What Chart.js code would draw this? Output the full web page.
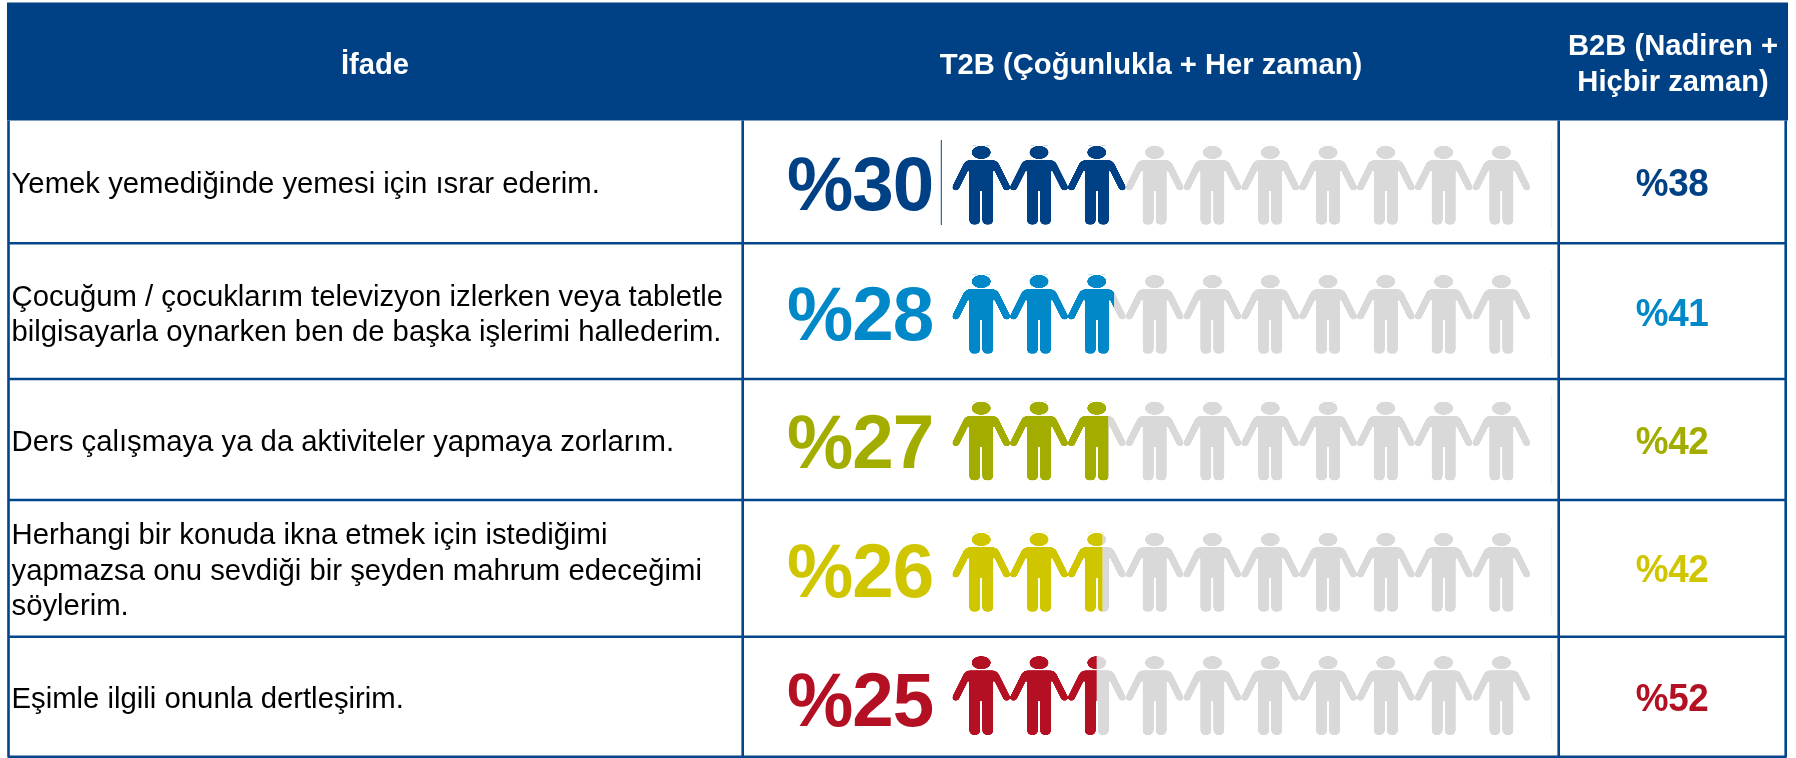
<!DOCTYPE html>
<html lang="tr">
<head>
<meta charset="utf-8">
<title>T2B / B2B</title>
<script src="https://cdn.jsdelivr.net/npm/chart.js@4/dist/chart.umd.js"></script>
<style>
  html, body { margin: 0; padding: 0; background: #ffffff; }
  canvas { display: block; }
</style>
</head>
<body>
<canvas id="chart" width="1796" height="758"></canvas>
<script>
// Data
const headers = ['İfade', 'T2B (Çoğunlukla + Her zaman)', ['B2B (Nadiren +', 'Hiçbir zaman)']];
const statements = [
  ['Yemek yemediğinde yemesi için ısrar ederim.'],
  ['Çocuğum / çocuklarım televizyon izlerken veya tabletle', 'bilgisayarla oynarken ben de başka işlerimi hallederim.'],
  ['Ders çalışmaya ya da aktiviteler yapmaya zorlarım.'],
  ['Herhangi bir konuda ikna etmek için istediğimi', 'yapmazsa onu sevdiği bir şeyden mahrum edeceğimi', 'söylerim.'],
  ['Eşimle ilgili onunla dertleşirim.']
];
const t2bValues = [30, 28, 27, 26, 25];
const restValues = [70, 72, 73, 74, 75];
const b2bValues = [38, 41, 42, 42, 52];

// Colours
const rowColors = ['#004185', '#0088C8', '#A2AD00', '#CFC600', '#B41023'];
const restColor = '#D9D9D9';
const lineColor = '#03468C';

// Table layout (pixels)
const rowEdges = [120.5, 243.3, 379, 500, 636.7, 756.7];
const colEdges = [8.5, 742.7, 1558.7, 1785.7];
const rowMiddles = [185.2, 314.3, 441, 572.3, 695.5];
const statementBaselines = [[192.5], [305.7, 340.5], [451.4], [543.7, 580, 615], [708]];
const bigBaselines = [210, 340, 467.7, 597, 726];
const smallBaselines = [195.7, 325.7, 454.3, 582.3, 711];
const faintLineTops = [141, 270, 396, 528, 651];
const personWidth = 57.8;
const personHeight = 79;

// One person, drawn in a box of 58 x 79 with the centre line at 0
function tracePerson(ctx) {
  ctx.beginPath();
  ctx.ellipse(0, 6.7, 9.5, 6.6, 0, 0, Math.PI * 2);
  ctx.closePath();
  [1, -1].forEach(s => {
    ctx.moveTo(0, 14.3);
    ctx.lineTo(s * 10.5, 14.3);
    ctx.quadraticCurveTo(s * 15.5, 14.3, s * 17.8, 18.4);
    ctx.lineTo(s * 28.4, 39.6);
    ctx.quadraticCurveTo(s * 30, 43.6, s * 26.2, 44.6);
    ctx.quadraticCurveTo(s * 23, 45, s * 21.8, 42.4);
    ctx.lineTo(s * 13.4, 25.6);
    ctx.lineTo(s * 12, 25.6);
    ctx.lineTo(s * 12, 73.5);
    ctx.quadraticCurveTo(s * 12, 79, s * 6.6, 79);
    ctx.quadraticCurveTo(s * 1, 79, s * 1, 73.5);
    ctx.lineTo(s * 1, 45.3);
    ctx.lineTo(0, 45.3);
    ctx.closePath();
  });
}

// Tile with one person, used as the fill of the bars so they repeat along x
function makePersonPattern(color) {
  const tile = document.createElement('canvas');
  tile.width = 232;
  tile.height = 316;
  const t = tile.getContext('2d');
  t.scale(232 / personWidth, 316 / personHeight);
  t.translate(personWidth / 2, 0);
  t.fillStyle = color;
  tracePerson(t);
  t.fill();
  return t.createPattern(tile, 'repeat');
}

const t2bPatterns = rowColors.map(makePersonPattern);
const restPatterns = rowColors.map(() => makePersonPattern(restColor));

// Category scale whose rows follow the uneven table rows
class RowScale extends Chart.CategoryScale {
  static id = 'rows';
  static defaults = {};
  getPixelForValue(value) {
    return rowMiddles[value];
  }
}
Chart.register(RowScale);

function drawText(ctx, text, x, y, font, color, align, spacing, squeeze) {
  ctx.save();
  ctx.translate(x, y);
  ctx.scale(squeeze || 1, 1);
  ctx.font = font;
  ctx.fillStyle = color;
  ctx.textAlign = align;
  ctx.textBaseline = 'alphabetic';
  ctx.letterSpacing = spacing || '0px';
  ctx.fillText(text, 0, 0);
  ctx.restore();
}

const tablePlugin = {
  id: 'table',
  beforeDatasetsDraw(chart) {
    const { ctx, scales } = chart;
    ctx.save();

    // Header band
    ctx.fillStyle = '#004185';
    ctx.fillRect(7, 2.5, 1781, rowEdges[0] - 2.5);

    // Grid lines
    ctx.strokeStyle = lineColor;
    ctx.lineWidth = 2.6;
    ctx.beginPath();
    rowEdges.slice(1).forEach(y => {
      ctx.moveTo(colEdges[0] - 1, y);
      ctx.lineTo(colEdges[3] + 1, y);
    });
    colEdges.forEach(x => {
      ctx.moveTo(x, rowEdges[0]);
      ctx.lineTo(x, rowEdges[5]);
    });
    ctx.stroke();

    // Thin rule next to the first value
    ctx.lineWidth = 1;
    ctx.beginPath();
    ctx.moveTo(941.3, 140);
    ctx.lineTo(941.3, 225);
    ctx.stroke();

    // Faint rule at the end of each row of people
    ctx.strokeStyle = '#EFEFEF';
    ctx.beginPath();
    faintLineTops.forEach(top => {
      ctx.moveTo(1551.3, top);
      ctx.lineTo(1551.3, top + 88);
    });
    ctx.stroke();
    ctx.restore();

    // Line the person tiles up with each bar
    const x0 = scales.x.getPixelForValue(0);
    const size = new DOMMatrix().scale(personWidth / 232, personHeight / 316);
    rowMiddles.forEach((m, i) => {
      const move = new DOMMatrix().translate(x0, scales.y.getPixelForValue(i) - personHeight / 2);
      t2bPatterns[i].setTransform(move.multiply(size));
      restPatterns[i].setTransform(move.multiply(size));
    });
  },
  afterDatasetsDraw(chart) {
    const { ctx } = chart;
    ctx.save();

    // Header text
    const headFont = 'bold 29.2px "Liberation Sans", Arial, sans-serif';
    drawText(ctx, headers[0], 375, 73.5, headFont, '#ffffff', 'center');
    drawText(ctx, headers[1], 1151, 73.5, headFont, '#ffffff', 'center');
    drawText(ctx, headers[2][0], 1673, 54.5, headFont, '#ffffff', 'center');
    drawText(ctx, headers[2][1], 1673, 90.7, headFont, '#ffffff', 'center');

    statements.forEach((lines, i) => {
      lines.forEach((line, k) => {
        drawText(ctx, line, 11.5, statementBaselines[i][k], '29.3px "Liberation Sans", Arial, sans-serif', '#000000', 'left');
      });
      drawText(ctx, '%' + t2bValues[i], 787, bigBaselines[i], 'bold 76px "Liberation Sans", Arial, sans-serif', rowColors[i], 'left', '-1px', 0.98);
      drawText(ctx, '%' + b2bValues[i], 1672, smallBaselines[i], 'bold 38px "Liberation Sans", Arial, sans-serif', rowColors[i], 'center', '-0.5px', 0.97);
    });
    ctx.restore();
  }
};

const chart = new Chart(document.getElementById('chart'), {
  type: 'bar',
  data: {
    labels: statements.map(lines => lines.join(' ')),
    datasets: [
      { label: 'T2B', data: t2bValues, backgroundColor: t2bPatterns },
      { label: 'Kalan', data: restValues, backgroundColor: restPatterns }
    ]
  },
  options: {
    indexAxis: 'y',
    responsive: false,
    animation: false,
    devicePixelRatio: 1,
    barThickness: personHeight,
    inflateAmount: 0,
    borderWidth: 0,
    layout: { padding: { left: 952.3, right: 266, top: 0, bottom: 0 } },
    scales: {
      x: { type: 'linear', min: 0, max: 100, stacked: true, display: false },
      y: { type: 'rows', stacked: true, display: false }
    },
    plugins: {
      legend: { display: false },
      tooltip: { enabled: false }
    }
  },
  plugins: [tablePlugin]
});
</script>
</body>
</html>
